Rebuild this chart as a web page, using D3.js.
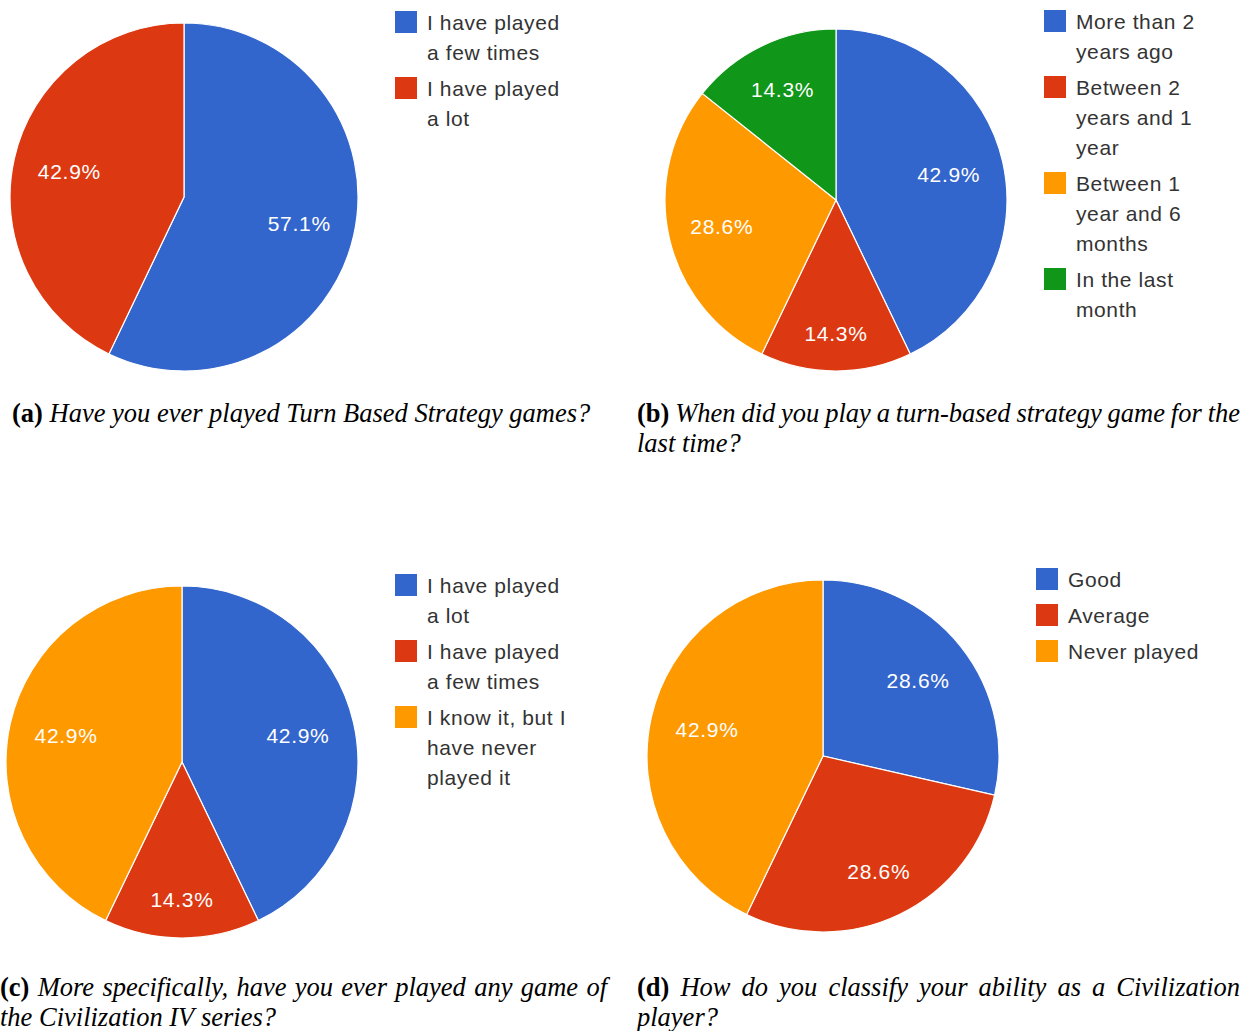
<!DOCTYPE html>
<html><head><meta charset="utf-8">
<script src="https://cdn.jsdelivr.net/npm/d3@7"></script>
<style>
html,body{margin:0;padding:0;background:#fff;}
svg{display:block;}
</style></head>
<body>
<svg id="chart" width="1259" height="1031"></svg>
<script>
const colors = ["#3366cc", "#dc3912", "#ff9900", "#109618"];

const catsA = ["I have played|a few times", "I have played|a lot"];
const valsA = [57.1, 42.9];
const catsB = ["More than 2|years ago", "Between 2|years and 1|year", "Between 1|year and 6|months", "In the last|month"];
const valsB = [42.9, 14.3, 28.6, 14.3];
const catsC = ["I have played|a lot", "I have played|a few times", "I know it, but I|have never|played it"];
const valsC = [42.9, 14.3, 42.9];
const catsD = ["Good", "Average", "Never played"];
const valsD = [28.6, 28.6, 42.9];

const capA = [[["(a)", true], [" Have you ever played Turn Based Strategy games?", false]]];
const capB = [[["(b)", true], [" When did you play a turn-based strategy game for the", false]], [["last time?", false]]];
const capC = [[["(c)", true], [" More specifically, have you ever played any game of", false]], [["the Civilization IV series?", false]]];
const capD = [[["(d)", true], [" How do you classify your ability as a Civilization", false]], [["player?", false]]];

const svg = d3.select("#chart");

const panels = [
  {cats: catsA, vals: valsA, cx: 184, cy: 197, r: 174, lx: 395, ly: 11, cap: capA, capX: 12, capW: 593, capY: 422},
  {cats: catsB, vals: valsB, cx: 836, cy: 200, r: 171, lx: 1044, ly: 10, cap: capB, capX: 637, capW: 603, capY: 422},
  {cats: catsC, vals: valsC, cx: 182, cy: 762, r: 176, lx: 395, ly: 574, cap: capC, capX: 0, capW: 607, capY: 996},
  {cats: catsD, vals: valsD, cx: 823, cy: 756, r: 176, lx: 1036, ly: 568, cap: capD, capX: 637, capW: 603, capY: 996}
];

const labelFont = "'Liberation Sans', Arial, sans-serif";
const serif = "'Liberation Serif', 'Times New Roman', serif";

// label radius heuristic (small slices pushed outward, mimicking Google Charts placement)
function labelFrac(d) {
  const mid = (d.startAngle + d.endAngle) / 2;
  const c = Math.cos(mid);
  const w = c < 0 ? -c : 0.5 * c;
  const share = (d.endAngle - d.startAngle) / (2 * Math.PI) * 100;
  return 0.67 + 0.11 * w * Math.pow(14.3 / share, 0.7);
}

panels.forEach(p => {
  const g = svg.append("g").attr("transform", `translate(${p.cx},${p.cy})`);
  const data = p.cats.map((c, i) => ({cat: c, val: p.vals[i], color: colors[i]}));
  const pie = d3.pie().value(d => d.val).sort(null);
  const arc = d3.arc().innerRadius(0).outerRadius(p.r);
  const arcs = pie(data);
  g.selectAll("path").data(arcs).join("path")
    .attr("d", arc).attr("fill", d => d.data.color)
    .attr("stroke", "#fff").attr("stroke-width", 1.2);
  g.selectAll("text").data(arcs).join("text")
    .attr("transform", d => {
      const rr = p.r * labelFrac(d);
      const lab = d3.arc().innerRadius(rr).outerRadius(rr);
      return `translate(${lab.centroid(d)})`;
    })
    .attr("text-anchor", "middle").attr("dy", "0.36em")
    .attr("fill", "#fff").attr("font-family", labelFont).attr("font-size", 21)
    .attr("letter-spacing", 0.7)
    .text(d => d.data.val.toFixed(1) + "%");

  // legend
  const lg = svg.append("g");
  let y = p.ly;
  data.forEach(d => {
    const lines = d.cat.split("|");
    lg.append("rect").attr("x", p.lx).attr("y", y).attr("width", 22).attr("height", 22)
      .attr("fill", d.color);
    const t = lg.append("text").attr("font-family", labelFont).attr("font-size", 21)
      .attr("letter-spacing", 0.6).attr("fill", "#333");
    lines.forEach((ln, i) => {
      t.append("tspan").attr("x", p.lx + 32).attr("y", y + 19 + i * 30).text(ln);
    });
    y += lines.length * 30 + 6;
  });

  // caption (justified lines, last line ragged)
  p.cap.forEach((line, li) => {
    const baseY = p.capY + li * 29.5;
    const words = [];
    line.forEach(([txt, bold]) => {
      txt.split(" ").forEach(w => { if (w !== "") words.push({w, bold}); });
    });
    const cg = svg.append("g");
    const nodes = words.map(o => cg.append("text").attr("y", baseY)
      .attr("font-family", serif).attr("font-size", 26.5)
      .attr("font-weight", o.bold ? "bold" : "normal")
      .attr("font-style", o.bold ? "normal" : "italic")
      .attr("fill", "#000").text(o.w));
    const widths = nodes.map(n => n.node().getComputedTextLength());
    const total = d3.sum(widths);
    const isLast = li === p.cap.length - 1;
    const space = isLast ? 6.6 : (p.capW - total) / (words.length - 1);
    let x = p.capX;
    nodes.forEach((n, i) => { n.attr("x", x); x += widths[i] + space; });
  });
});
</script>
</body></html>
